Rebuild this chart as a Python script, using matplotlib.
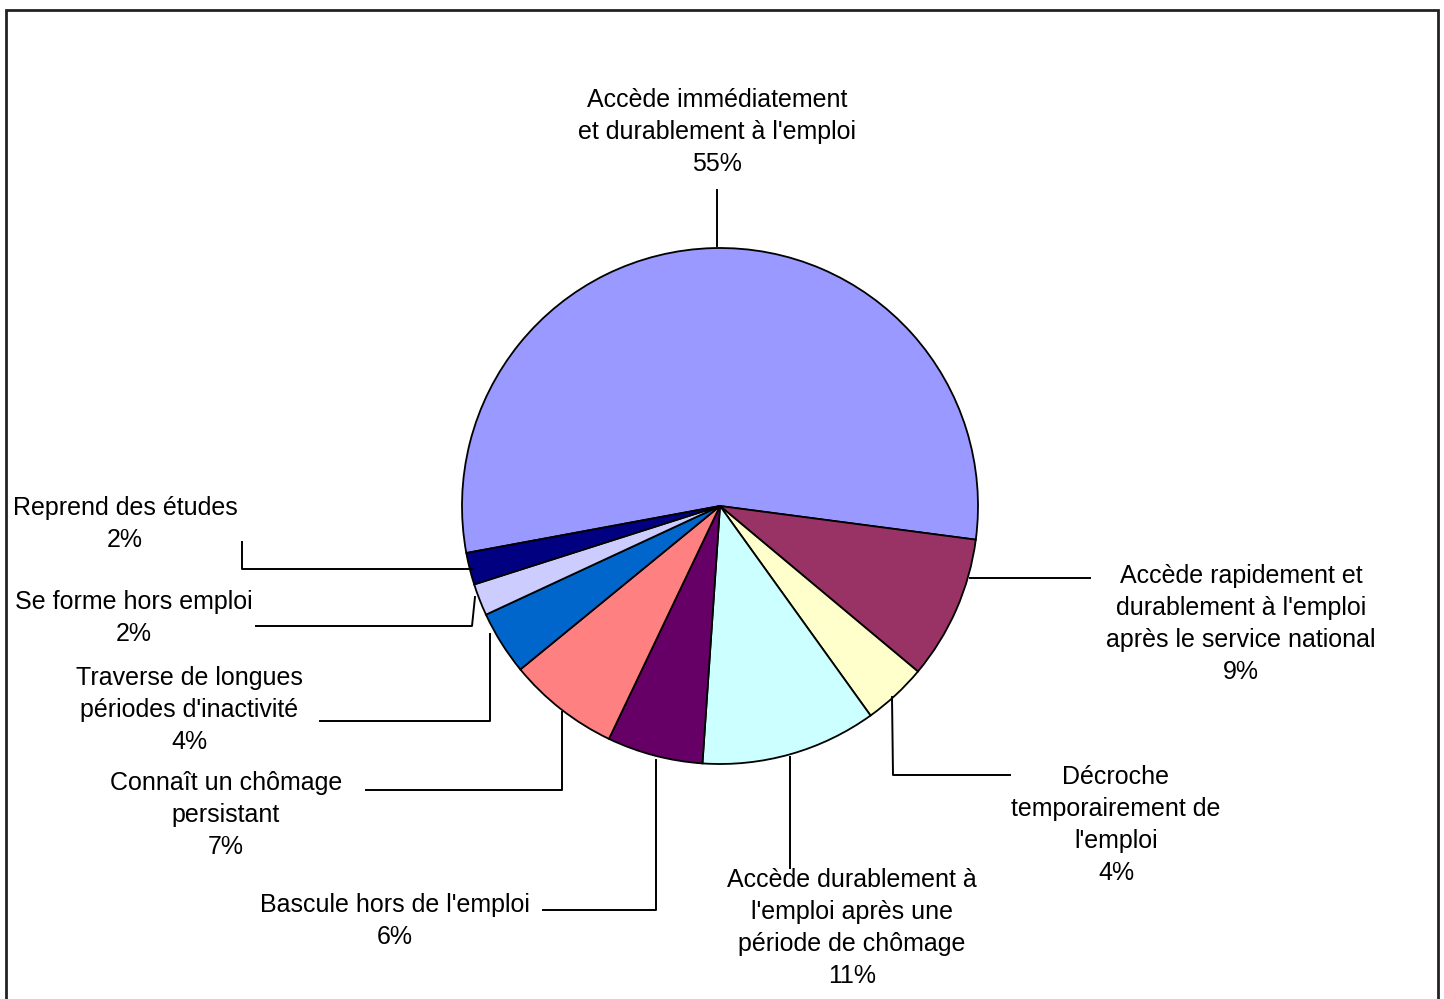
import matplotlib
matplotlib.use("Agg")
from matplotlib import pyplot as plt
from matplotlib.patches import Rectangle

plt.rcParams['font.family'] = ['Liberation Sans', 'DejaVu Sans']

# slice data, clockwise from the big one
labels = ["Accède immédiatement\net durablement à l'emploi",
          "Accède rapidement et\ndurablement à l'emploi\naprès le service national",
          "Décroche\ntemporairement de\nl'emploi",
          "Accède durablement à\nl'emploi après une\npériode de chômage",
          "Bascule hors de l'emploi",
          "Connaît un chômage\npersistant",
          "Traverse de longues\npériodes d'inactivité",
          "Se forme hors emploi",
          "Reprend des études"]
shares = [55, 9, 4, 11, 6, 7, 4, 2, 2]
colors = ['#9999FF', '#993366', '#FFFFCC', '#CCFFFF', '#660066',
          '#FF8080', '#0066CC', '#CCCCFF', '#000080']

# label centres and leader lines, in picture pixels (y down)
label_pos = [(717, 132), (1241, 624), (1116, 825), (852, 928), (395, 921),
             (226, 815), (189, 710), (134, 618), (125, 524)]
leaders = [
    [(717, 246), (717, 190)],
    [(970, 578), (1090, 578)],
    [(892, 697), (893, 775), (1010, 775)],
    [(790, 757), (790, 868)],
    [(656, 760), (656, 910), (543, 910)],
    [(562, 712), (562, 790), (366, 790)],
    [(490, 634), (490, 721), (320, 721)],
    [(475, 597), (472, 626), (256, 626)],
    [(473, 569), (242, 569), (242, 542)],
]

W, H = 1444, 999


def py(y):
    return H - y


fig = plt.figure(figsize=(14.44, 9.99), dpi=100)
ax = fig.add_axes([0, 0, 1, 1])

ax.pie(shares, colors=colors, startangle=190.5, counterclock=False,
       center=(720, py(506)), radius=258, frame=True,
       wedgeprops=dict(edgecolor='black', linewidth=1.3))
ax.set_xlim(0, W)
ax.set_ylim(0, H)
ax.axis('off')

for lab, s, (x, y), pts in zip(labels, shares, label_pos, leaders):
    ax.text(x, py(y), lab + "\n" + str(s) + "%", ha='center', va='center',
            fontsize=18, linespacing=1.43, color='black')
    ax.plot([p[0] for p in pts], [py(p[1]) for p in pts], color='black', lw=1.4)

ax.add_patch(Rectangle((6, py(1010)), 1432, 1000, fill=False,
                       edgecolor='#222222', lw=2, clip_on=False))

fig.savefig('out.png', dpi=100)
